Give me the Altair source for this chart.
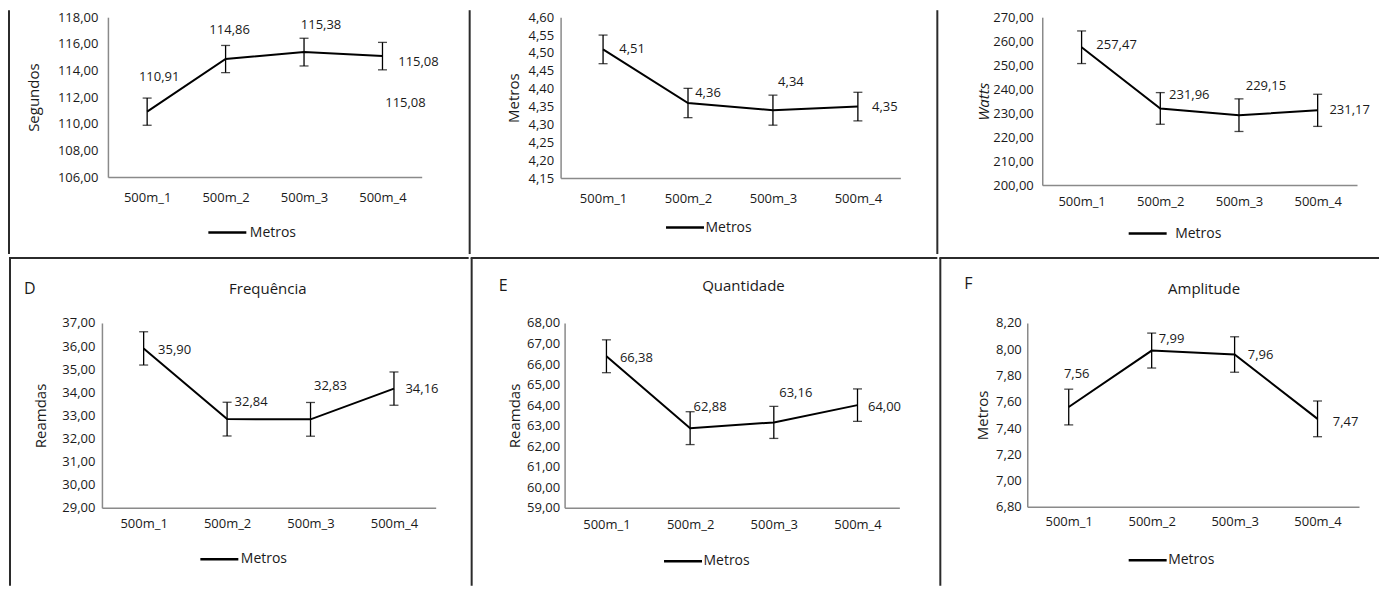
import altair as alt
import pandas as pd

categories = ["500m_1", "500m_2", "500m_3", "500m_4"]

# A - Tempo (Segundos)
a_mean = [110.91, 114.86, 115.38, 115.08]
a_err = [1.02, 1.02, 1.04, 1.03]
a_ticks = [106, 108, 110, 112, 114, 116, 118]

# B - Metros
b_mean = [4.51, 4.36, 4.34, 4.35]
b_err = [0.040, 0.041, 0.042, 0.040]
b_ticks = [4.15, 4.20, 4.25, 4.30, 4.35, 4.40, 4.45, 4.50, 4.55, 4.60]

# C - Watts
c_mean = [257.47, 231.96, 229.15, 231.17]
c_err = [6.8, 6.6, 6.8, 6.7]
c_ticks = [200, 210, 220, 230, 240, 250, 260, 270]

# D - Frequência
d_mean = [35.90, 32.84, 32.83, 34.16]
d_err = [0.72, 0.73, 0.73, 0.72]
d_ticks = [29, 30, 31, 32, 33, 34, 35, 36, 37]

# E - Quantidade
e_mean = [66.38, 62.88, 63.16, 64.00]
e_err = [0.80, 0.80, 0.78, 0.79]
e_ticks = [59, 60, 61, 62, 63, 64, 65, 66, 67, 68]

# F - Amplitude
f_mean = [7.56, 7.99, 7.96, 7.47]
f_err = [0.136, 0.133, 0.135, 0.136]
f_ticks = [6.80, 7.00, 7.20, 7.40, 7.60, 7.80, 8.00, 8.20]

series_name = "Metros"

FONT = "Open Sans"
TXT = "#1a1a1a"
AXC = "#8a8a8a"
BORDER = "#2b2b2b"

deco_df = pd.DataFrame({"k": [0]})

# layout (pixels relative to each plot area's top-left corner)
TOP_Y1, TOP_Y2 = -9, 239          # top row extent
BOT_Y1, BOT_Y2 = -65, 265         # bottom row extent (border line at -65)

panels = [
    dict(mean=a_mean, err=a_err, ticks=a_ticks, ytitle="Segundos", italic=False,
         xb=-99, xr=361, W=314, H=160, row="top",
         titleX=-69, ylp=10, xlp=14,
         legX=99, legY=195, legOff=2,
         labels=[(12, -35), (4, -29), (17, -27), (36, 6)], extra=[(3, 23, 47)]),
    dict(mean=b_mean, err=b_err, ticks=b_ticks, ytitle="Metros", italic=False,
         xb=-91, xr=376, W=340, H=161, row="top",
         titleX=-42, ylp=7, xlp=14,
         legX=104, legY=190, legOff=0,
         labels=[(29, 0), (20, -10), (18, -28), (27, 0)], extra=[]),
    dict(mean=c_mean, err=c_err, ticks=c_ticks, ytitle="Watts", italic=True,
         xb=-105, xr=334, W=315, H=168, row="top",
         titleX=-54, ylp=9, xlp=10,
         legX=85, legY=196, legOff=7,
         labels=[(35, -2), (29, -13), (27, -29), (32, 0)], extra=[]),
    dict(mean=d_mean, err=d_err, ticks=d_ticks, ytitle="Reamdas", italic=False,
         xb=-92, xr=368, W=334, H=185, row="bottom",
         titleX=-56, ylp=7, xlp=10,
         legX=97, legY=216, legOff=1,
         letter="D", letX=-78, letY=-34, title="Frequência", titX=166, titY=-34,
         labels=[(31, 2), (24, -17), (20, -33), (28, 0)], extra=[]),
    dict(mean=e_mean, err=e_err, ticks=e_ticks, ytitle="Reamdas", italic=False,
         xb=-93, xr=374, W=335, H=185, row="bottom",
         titleX=-45, ylp=5, xlp=11,
         legX=98, legY=218, legOff=0,
         letter="E", letX=-66, letY=-37, title="Quantidade", titX=179, titY=-37,
         labels=[(30, 2), (20, -21), (22, -29), (27, 2)], extra=[]),
    dict(mean=f_mean, err=f_err, ticks=f_ticks, ytitle="Metros", italic=False,
         xb=-87, xr=353, W=332, H=184, row="bottom",
         titleX=-40, ylp=6, xlp=9,
         legX=100, legY=217, legOff=0,
         letter="F", letX=-63, letY=-39, title="Amplitude", titX=177, titY=-34,
         labels=[(8, -33), (20, -12), (26, 1), (28, 3)], extra=[]),
]

LABEL_EXPR = "replace(format(datum.value, '.2f'), '.', ',')"


def vrule(x, y1, y2, visible=True):
    return alt.Chart(deco_df).mark_rule(
        color=BORDER, strokeWidth=2, strokeOpacity=1 if visible else 0
    ).encode(x=alt.value(x), y=alt.value(y1), y2=alt.value(y2))


def hrule(x1, x2, y):
    return alt.Chart(deco_df).mark_rule(
        color=BORDER, strokeWidth=2, strokeCap="square"
    ).encode(x=alt.value(x1), x2=alt.value(x2), y=alt.value(y))


def panel(p):
    df = pd.DataFrame({
        "cat": categories,
        "mean": p["mean"],
        "lo": [m - e for m, e in zip(p["mean"], p["err"])],
        "hi": [m + e for m, e in zip(p["mean"], p["err"])],
        "series": series_name,
    })
    ticks = p["ticks"]
    yscale = alt.Scale(domain=[ticks[0], ticks[-1]], nice=False, zero=False)
    yaxis = alt.Axis(
        values=ticks, labelExpr=LABEL_EXPR, grid=False, ticks=False, tickSize=0,
        labelPadding=p["ylp"], labelFontSize=13, labelColor=TXT,
        domainColor=AXC, domainWidth=1.5,
        titleX=p["titleX"], titleBaseline="alphabetic", titleFontSize=15,
        titleFontWeight="normal", titleColor=TXT,
        titleFontStyle="italic" if p["italic"] else "normal",
    )
    xscale = alt.Scale(type="point", domain=categories, padding=0.5)
    xaxis = alt.Axis(
        title=None, labelAngle=0, ticks=False, tickSize=0, grid=False,
        labelPadding=p["xlp"], labelFontSize=13, labelColor=TXT,
        domainColor=AXC, domainWidth=1.5,
    )

    def X():
        return alt.X("cat:N", scale=xscale, axis=xaxis, sort=categories)

    def Y(field):
        return alt.Y(f"{field}:Q", scale=yscale, axis=yaxis, title=p["ytitle"])

    base = alt.Chart(df)
    line = base.mark_line(strokeWidth=2).encode(
        x=X(), y=Y("mean"),
        color=alt.Color(
            "series:N",
            scale=alt.Scale(domain=[series_name], range=["black"]),
            legend=alt.Legend(
                title=None, orient="none", legendX=p["legX"], legendY=p["legY"],
                symbolType="stroke", symbolSize=1444, symbolStrokeWidth=2.5,
                labelFontSize=14, labelColor=TXT, labelOffset=p["legOff"], padding=0,
            ),
        ),
    )
    bars = base.mark_rule(color="black", strokeWidth=1.3).encode(
        x=X(), y=Y("lo"), y2="hi:Q")
    cap_lo = base.mark_tick(color="black", size=9, thickness=1.3).encode(x=X(), y=Y("lo"))
    cap_hi = base.mark_tick(color="black", size=9, thickness=1.3).encode(x=X(), y=Y("hi"))

    lab_base = base.transform_calculate(label="replace(format(datum.mean, '.2f'), '.', ',')")
    labels = []
    specs = [(i, dx, dy) for i, (dx, dy) in enumerate(p["labels"])] + list(p["extra"])
    for (i, dx, dy) in specs:
        labels.append(
            lab_base.transform_filter(alt.datum.cat == categories[i]).mark_text(
                dx=dx, dy=dy, fontSize=13, color=TXT, align="center", baseline="middle"
            ).encode(x=X(), y=Y("mean"), text="label:N")
        )

    xb, xr, W, H = p["xb"], p["xr"], p["W"], p["H"]
    if p["row"] == "top":
        y1, y2 = TOP_Y1, TOP_Y2
        deco = [
            vrule(xb, y1 + 2, y2 - 2, True),
            vrule(xr, y1, y2, False),
        ]
    else:
        y1, y2 = BOT_Y1, BOT_Y2
        deco = [
            vrule(xb, y1, y2 - 2, True),
            vrule(xr, y1 - 2, y2, False),
            hrule(xb, xr - 2, y1),
            alt.Chart(deco_df).mark_text(
                fontSize=16, color=TXT, align="left", baseline="middle"
            ).encode(x=alt.value(p["letX"]), y=alt.value(p["letY"]), text=alt.value(p["letter"])),
            alt.Chart(deco_df).mark_text(
                fontSize=15, color=TXT, align="center", baseline="middle"
            ).encode(x=alt.value(p["titX"]), y=alt.value(p["titY"]), text=alt.value(p["title"])),
        ]

    return alt.layer(*deco, bars, cap_lo, cap_hi, line, *labels).properties(width=W, height=H)


def spacer():
    return alt.Chart(deco_df).mark_rule(strokeOpacity=0).encode(
        x=alt.value(0), y=alt.value(0), y2=alt.value(1)
    ).properties(width=1, height=1)


charts = [panel(p) for p in panels]
top = alt.hconcat(spacer(), *charts[:3], spacing=0).resolve_scale(
    color="independent").resolve_legend(color="independent")
bottom = alt.hconcat(spacer(), *charts[3:], spacing=0).resolve_scale(
    color="independent").resolve_legend(color="independent")

chart = alt.vconcat(top, bottom, spacing=0).resolve_scale(
    color="independent"
).resolve_legend(color="independent").properties(
    padding={"top": 0, "left": -1, "right": 0, "bottom": 0}
).configure(font=FONT).configure_view(stroke=None)

chart.save("out.html", embed_options={"renderer": "svg", "actions": False})
